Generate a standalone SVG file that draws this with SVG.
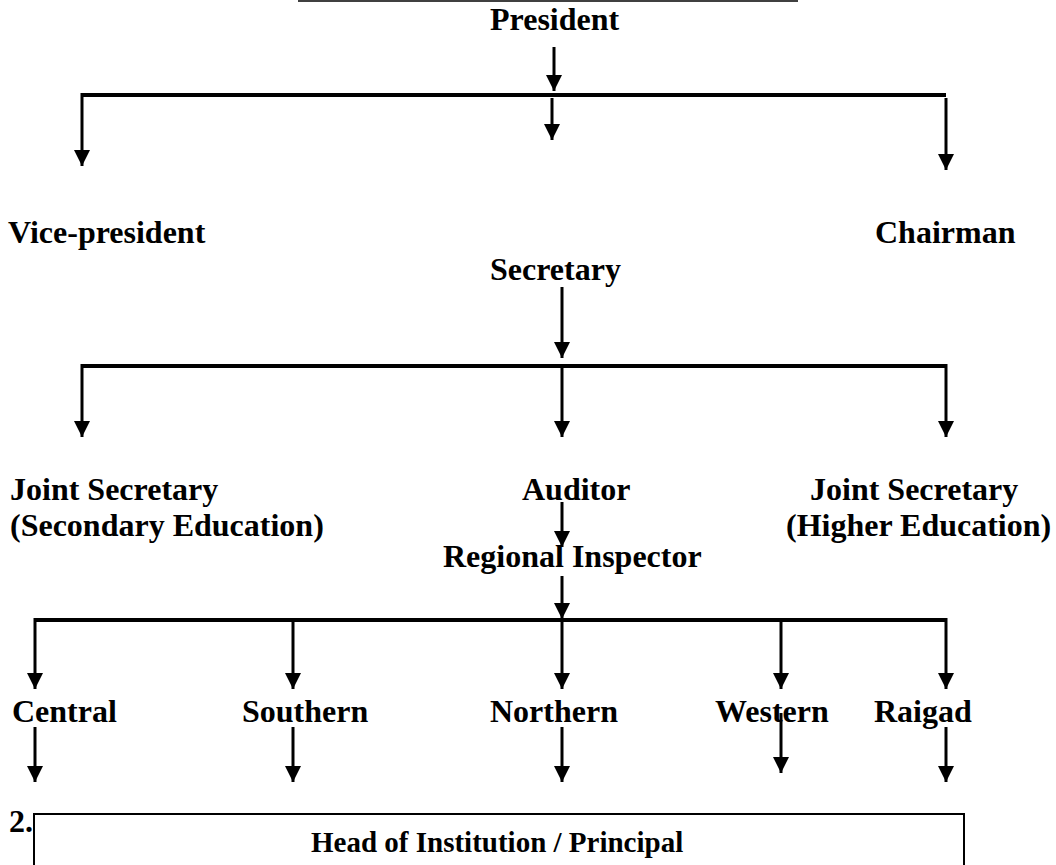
<svg xmlns="http://www.w3.org/2000/svg" width="1056" height="865" viewBox="0 0 1056 865">
<defs>
<style>
text{font-family:"Liberation Serif","Times New Roman",serif;font-weight:bold;font-size:32px;fill:#000}
.bar{stroke:#000;stroke-width:4;fill:none}
.arr{stroke:#000;stroke-width:3;fill:none;marker-end:url(#ah)}
.thin{stroke:#000;stroke-width:1.5;fill:none}
</style>
<marker id="ah" markerUnits="userSpaceOnUse" markerWidth="16" markerHeight="16" refX="16" refY="8" orient="auto" viewBox="0 0 16 16">
<path d="M0,0 L16,8 L0,16 z" fill="#000"/>
</marker>
</defs>
<rect width="1056" height="865" fill="#fff"/>
<line class="thin" x1="298" y1="1" x2="798" y2="1"/>
<g id="connectors">
<line class="arr" x1="554" y1="47" x2="554" y2="91"/>
<line class="bar" x1="82" y1="95" x2="946" y2="95"/>
<line class="arr" x1="82" y1="93" x2="82" y2="166"/>
<line class="arr" x1="552" y1="98" x2="552" y2="140"/>
<line class="arr" x1="946" y1="98" x2="946" y2="170"/>
<line class="arr" x1="562" y1="287" x2="562" y2="358"/>
<line class="bar" x1="82" y1="366" x2="946" y2="366"/>
<line class="arr" x1="82" y1="364" x2="82" y2="437"/>
<line class="arr" x1="562" y1="364" x2="562" y2="437"/>
<line class="arr" x1="946" y1="364" x2="946" y2="437"/>
<line class="arr" x1="562" y1="502" x2="562" y2="547"/>
<line class="arr" x1="562" y1="576" x2="562" y2="619"/>
<line class="bar" x1="35" y1="620" x2="946" y2="620"/>
<line class="arr" x1="35" y1="618" x2="35" y2="689"/>
<line class="arr" x1="293" y1="618" x2="293" y2="689"/>
<line class="arr" x1="562" y1="618" x2="562" y2="689"/>
<line class="arr" x1="781" y1="618" x2="781" y2="689"/>
<line class="arr" x1="946" y1="618" x2="946" y2="689"/>
<line class="arr" x1="35" y1="727" x2="35" y2="782"/>
<line class="arr" x1="293" y1="727" x2="293" y2="782"/>
<line class="arr" x1="562" y1="727" x2="562" y2="782"/>
<line class="arr" x1="781" y1="713" x2="781" y2="773"/>
<line class="arr" x1="946" y1="727" x2="946" y2="782"/>
</g>
<g id="president"><text x="490" y="30">President</text></g>
<g id="vice-president"><text x="8" y="243">Vice-president</text></g>
<g id="chairman"><text x="875" y="243">Chairman</text></g>
<g id="secretary"><text x="490" y="280">Secretary</text></g>
<g id="joint-secretary-secondary"><text x="10" y="500">Joint Secretary</text><text x="10" y="536">(Secondary Education)</text></g>
<g id="auditor"><text x="522" y="500">Auditor</text></g>
<g id="joint-secretary-higher"><text x="810" y="500">Joint Secretary</text><text x="786" y="536">(Higher Education)</text></g>
<g id="regional-inspector"><text x="443" y="567">Regional Inspector</text></g>
<g id="central"><text x="12" y="722">Central</text></g>
<g id="southern"><text x="242" y="722">Southern</text></g>
<g id="northern"><text x="490" y="722">Northern</text></g>
<g id="western"><text x="715" y="722">Western</text></g>
<g id="raigad"><text x="874" y="722">Raigad</text></g>
<g id="label-2"><text x="9" y="832">2.</text></g>
<g id="head"><rect x="34" y="814" width="930" height="80" fill="none" stroke="#000" stroke-width="2"/><text x="311" y="852" style="font-size:29px">Head of Institution / Principal</text></g>
</svg>
